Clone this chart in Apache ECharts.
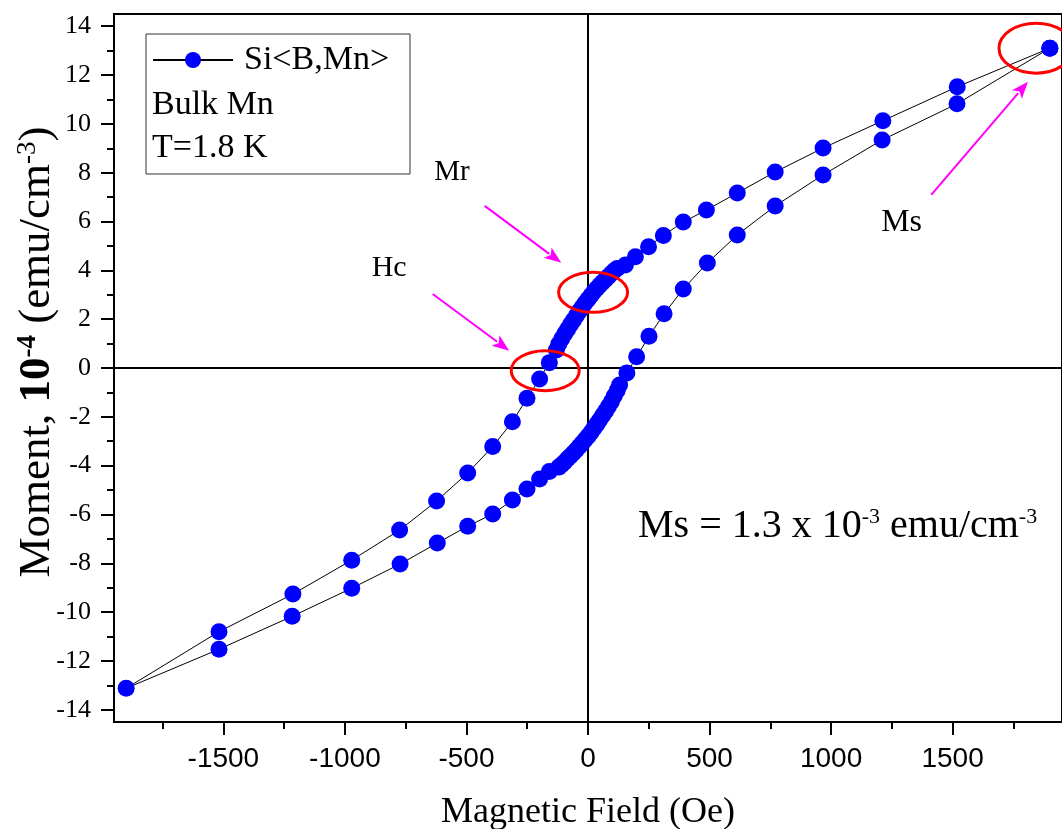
<!DOCTYPE html>
<html><head><meta charset="utf-8">
<script src="https://cdn.jsdelivr.net/npm/echarts@6/dist/echarts.min.js"></script>
<style>html,body{margin:0;padding:0;background:#fff}#c{width:1062px;height:829px}</style>
</head><body><div id="c"></div>
<script>
// ---------- data ----------
const seriesName = 'Si<B,Mn>';
const legendNotes = ['Bulk Mn', 'T=1.8 K'];
// descending field branch (from +Ms to -Ms)
const fieldDescending = [1900,1519,1213,967,770,614,487,392,310,249,195,154,
  120,108,96,84,72,60,48,36,24,12,0,-12,-24,-36,-48,-60,-72,-84,-96,-108,-120,-130,
  -159,-199,-251,-311,-392,-495,-623,-775,-972,-1214,-1518,-1900];
const momentDescending = [13.10,11.52,10.13,9.01,8.03,7.17,6.47,5.98,5.43,4.97,4.56,4.22,
  4.08,3.98,3.87,3.75,3.63,3.51,3.39,3.26,3.12,2.97,2.82,2.66,2.49,2.32,2.14,1.96,1.78,1.59,1.40,1.20,0.98,0.74,
  0.22,-0.45,-1.24,-2.20,-3.22,-4.30,-5.45,-6.64,-7.87,-9.26,-10.80,-13.12];
// ascending field branch (from -Ms back to +Ms)
const fieldAscending = [-1518,-1217,-972,-773,-620,-495,-392,-311,-251,-199,-159,
  -120,-108,-96,-84,-72,-60,-48,-36,-24,-12,0,12,24,36,48,60,72,84,96,108,120,130,
  160,200,251,313,392,491,614,770,967,1210,1518,1900];
const momentAscending = [-11.52,-10.17,-9.02,-8.03,-7.17,-6.48,-5.98,-5.41,-4.96,-4.55,-4.24,
  -4.06,-3.96,-3.85,-3.72,-3.60,-3.48,-3.36,-3.22,-3.08,-2.94,-2.80,-2.64,-2.47,-2.30,-2.13,-1.95,-1.77,-1.58,-1.38,-1.15,-0.92,-0.70,
  -0.20,0.46,1.30,2.22,3.24,4.30,5.45,6.64,7.91,9.34,10.82,13.10];
const xMajorTicks = [-1500,-1000,-500,0,500,1000,1500];
const xMinorTicks = [-1750,-1250,-750,-250,250,750,1250,1750];
const yMajorTicks = [-14,-12,-10,-8,-6,-4,-2,0,2,4,6,8,10,12,14];
const yMinorTicks = [-13,-11,-9,-7,-5,-3,-1,1,3,5,7,9,11,13];
const xRange = [-1950, 1950];
const yRange = [-14.5, 14.5];
const xTitle = 'Magnetic Field (Oe)';
// annotations in data coordinates
const annotationTexts = ['Mr', 'Hc', 'Ms'];
const annotationTextAt = [[-633, 8.03], [-890, 4.10], [1206, 5.96]];
const arrowFrom = [[-425, 6.64], [-639, 3.03], [1412, 7.09]];
const arrowTo = [[-110, 4.31], [-324, 0.71], [1810, 11.73]];
const ellipseCenter = [[21, 3.10], [-176, -0.11], [1843, 13.10]];

// ---------- chart ----------
const SERIF = "'Liberation Serif','Times New Roman',serif";
const SANS = "'Liberation Sans',Arial,sans-serif";
const loop = fieldDescending.map((x, i) => [x, momentDescending[i]])
  .concat(fieldAscending.map((x, i) => [x, momentAscending[i]]));

const chart = echarts.init(document.getElementById('c'), null, {renderer: 'canvas'});
const black = '#000';
const hidden = {show: false};
const opt = {
  animation: false,
  backgroundColor: '#fff',
  grid: {left: 114, right: -2, top: 14, bottom: 107, show: true, borderColor: black, borderWidth: 2, backgroundColor: 'transparent'},
  legend: {
    left: 152, top: 43, padding: 0, itemWidth: 80, itemHeight: 20,
    data: [seriesName],
    textStyle: {fontFamily: SERIF, fontSize: 34, color: black, padding: [0, 0, 0, 6]}
  },
  xAxis: [
    {type: 'value', min: xRange[0], max: xRange[1], position: 'bottom',
      axisLine: {onZero: false, lineStyle: {color: black, width: 2}},
      axisTick: {customValues: xMajorTicks, length: 13, lineStyle: {color: black, width: 2}},
      axisLabel: {customValues: xMajorTicks, margin: 23, formatter: v => String(v), fontFamily: SANS, fontSize: 28, color: black},
      splitLine: hidden},
    {type: 'value', min: xRange[0], max: xRange[1], position: 'bottom',
      axisLine: {show: false, onZero: false},
      axisTick: {customValues: xMinorTicks, length: 7, lineStyle: {color: black, width: 2}},
      axisLabel: hidden, splitLine: hidden},
    {type: 'value', min: xRange[0], max: xRange[1], position: 'top',
      axisLine: {onZero: true, onZeroAxisIndex: 0, lineStyle: {color: black, width: 2}},
      axisTick: hidden, axisLabel: hidden, splitLine: hidden}
  ],
  yAxis: [
    {type: 'value', min: yRange[0], max: yRange[1], position: 'left',
      axisLine: {onZero: false, lineStyle: {color: black, width: 2}},
      axisTick: {customValues: yMajorTicks, length: 13, lineStyle: {color: black, width: 2}},
      axisLabel: {customValues: yMajorTicks, margin: 23, formatter: v => String(v), fontFamily: SERIF, fontSize: 26, color: black},
      splitLine: hidden},
    {type: 'value', min: yRange[0], max: yRange[1], position: 'left',
      axisLine: {show: false, onZero: false},
      axisTick: {customValues: yMinorTicks, length: 7, lineStyle: {color: black, width: 2}},
      axisLabel: hidden, splitLine: hidden},
    {type: 'value', min: yRange[0], max: yRange[1], position: 'right',
      axisLine: {onZero: true, onZeroAxisIndex: 0, lineStyle: {color: black, width: 2}},
      axisTick: hidden, axisLabel: hidden, splitLine: hidden}
  ],
  series: [{
    name: seriesName, type: 'line', xAxisIndex: 0, yAxisIndex: 0, z: 5,
    data: loop, symbol: 'circle', symbolSize: 17, showSymbol: true,
    itemStyle: {color: '#0000FF'},
    lineStyle: {color: black, width: 1},
    emphasis: {disabled: true}
  }]
};
chart.setOption(opt);

function px(p) { return chart.convertToPixel({xAxisIndex: 0, yAxisIndex: 0}, p); }
const g = [];
// legend frame and notes
g.push({type: 'rect', z: 50, shape: {x: 146, y: 34, width: 264, height: 140}, style: {fill: null, stroke: '#333', lineWidth: 1}});
legendNotes.forEach((t, i) => g.push({type: 'text', z: 50, x: 152, y: 105 + i * 43,
  style: {text: t, fontFamily: SERIF, fontSize: 34, fill: black, align: 'left', verticalAlign: 'middle'}}));
// ellipses
const radii = [[34.5, 20], [34, 20], [37, 25]];
ellipseCenter.forEach((c, i) => { const p = px(c);
  g.push({type: 'ellipse', z: 60, shape: {cx: p[0], cy: p[1], rx: radii[i][0], ry: radii[i][1]},
    style: {fill: null, stroke: '#FF0000', lineWidth: 3}}); });
// arrows
arrowFrom.forEach((f, i) => { const a = px(f), b = px(arrowTo[i]);
  const dx = b[0] - a[0], dy = b[1] - a[1], L = Math.hypot(dx, dy), ux = dx / L, uy = dy / L;
  const hl = 17, hw = 6.5;
  const bx = b[0] - ux * hl, by = b[1] - uy * hl;
  g.push({type: 'line', z: 60, shape: {x1: a[0], y1: a[1], x2: bx + ux * 2, y2: by + uy * 2}, style: {stroke: '#FF00FF', lineWidth: 2}});
  g.push({type: 'polygon', z: 60, shape: {points: [[b[0], b[1]], [bx - uy * hw, by + ux * hw], [bx + ux * 4, by + uy * 4], [bx + uy * hw, by - ux * hw]]},
    style: {fill: '#FF00FF'}});
});
// annotation labels
const labelSizes = [29, 30, 32];
annotationTexts.forEach((t, i) => { const p = px(annotationTextAt[i]);
  g.push({type: 'text', z: 60, x: p[0], y: p[1], style: {text: t, fontFamily: SERIF, fontSize: labelSizes[i], fill: black, align: 'left', verticalAlign: 'middle'}}); });
// Ms equation
g.push({type: 'text', z: 60, x: 638, y: 526, style: {
  text: '{n|Ms = 1.3 x 10}{s|-3}{n| emu/cm}{s|-3}', align: 'left', verticalAlign: 'middle',
  rich: {n: {fontFamily: SERIF, fontSize: 40, lineHeight: 40, fill: black},
         s: {fontFamily: SERIF, fontSize: 22, lineHeight: 14, verticalAlign: 'top', fill: black}}}});
// axis titles
const x0 = px([0, 0]);
g.push({type: 'text', z: 60, x: x0[0], y: 813, style: {text: xTitle, fontFamily: SERIF, fontSize: 36, fill: black, align: 'center', verticalAlign: 'middle'}});
g.push({type: 'text', z: 60, x: 37, y: 352, rotation: Math.PI / 2, style: {
  text: '{r|Moment, }{b|10}{bs|-4}{r| (emu/cm}{rs|-3}{r|)}', align: 'center', verticalAlign: 'middle',
  rich: {r: {fontFamily: SERIF, fontSize: 45, lineHeight: 45, fill: black},
         b: {fontFamily: SERIF, fontSize: 45, lineHeight: 45, fontWeight: 'bold', fill: black},
         bs: {fontFamily: SERIF, fontSize: 27, lineHeight: 16, fontWeight: 'bold', verticalAlign: 'top', fill: black},
         rs: {fontFamily: SERIF, fontSize: 27, lineHeight: 16, verticalAlign: 'top', fill: black}}}});
chart.setOption({graphic: {elements: g}});
</script></body></html>
